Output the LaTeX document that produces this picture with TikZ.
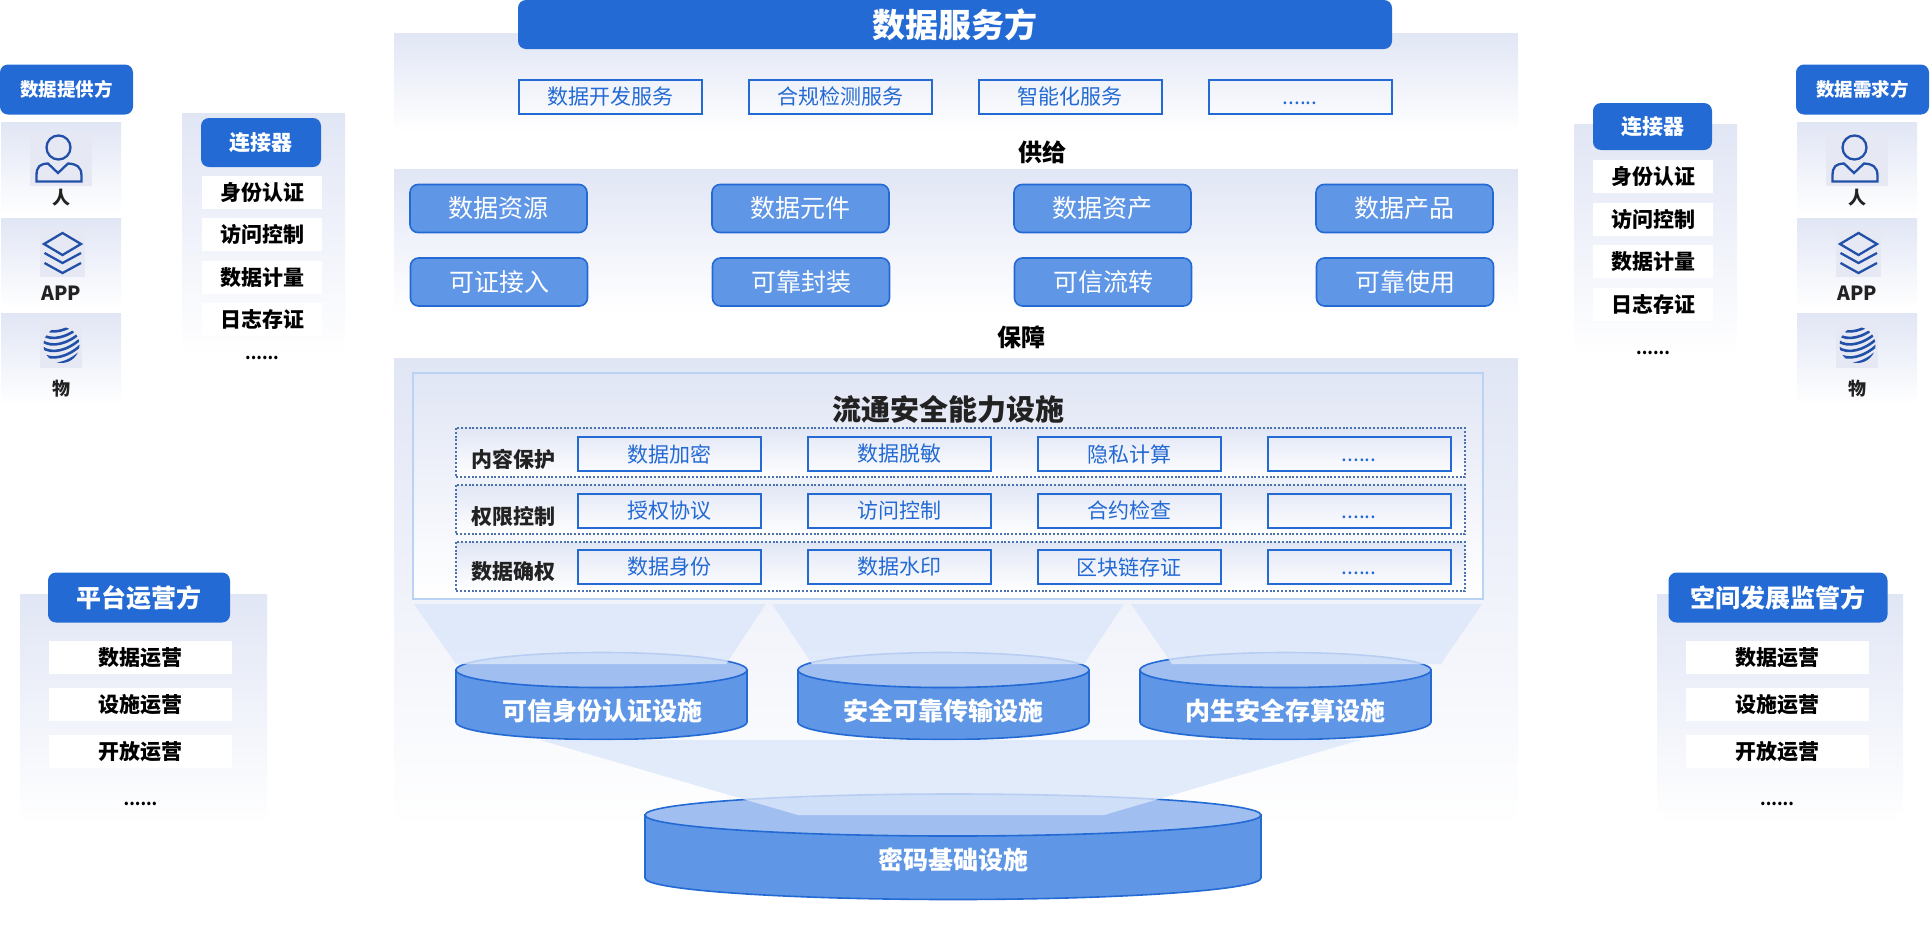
\documentclass[tikz,border=0pt]{standalone}
\usepackage{fontspec}
\usepackage{tikz}
\setmainfont{Noto Sans CJK SC}
\definecolor{barblue}{HTML}{236AD4}
\definecolor{softblue}{HTML}{5F96E6}
\definecolor{capblue}{HTML}{A0BFF0}
\definecolor{frameblue}{HTML}{BAD3F5}
\definecolor{panelgray}{HTML}{E1E6F5}
\definecolor{funnelblue}{HTML}{DCE7FA}
\definecolor{icongray}{HTML}{E6E9F3}
\definecolor{iconblue}{HTML}{2250A8}
\definecolor{dotblue}{HTML}{4A72AE}
\definecolor{inkgray}{HTML}{222222}
\pgfdeclareverticalshading{panelfade}{100bp}{color(0bp)=(white); color(25bp)=(white); color(75bp)=(panelgray); color(100bp)=(panelgray)}
\tikzstyle{panel} = [shading=panelfade]
\tikzstyle{dotrow} = [shading=panelfade, draw=dotblue, line width=2pt, dash pattern=on 2pt off 1.8pt]
\tikzstyle{headbox} = [fill=barblue, rounded corners=8pt, text=white, font=\bfseries, inner sep=0pt]
\tikzstyle{servicebox} = [draw=barblue, line width=2pt, text=barblue, inner sep=0pt, minimum width=183pt, minimum height=34pt, font=\fontsize{21}{24}\selectfont]
\tikzstyle{assetbox} = [draw=barblue, fill=softblue, line width=1.6pt, rounded corners=8pt, text=white, inner sep=0pt, minimum width=177pt, minimum height=48pt, font=\fontsize{25}{28}\selectfont]
\tikzstyle{rowbox} = [fill=white, text=black, inner sep=0pt, font=\fontsize{21}{24}\selectfont\bfseries]
\tikzstyle{dotbox} = [text=black, inner sep=0pt, font=\fontsize{16}{20}\selectfont\bfseries]
\tikzstyle{tag} = [text=inkgray, inner sep=0pt, font=\fontsize{21}{24}\selectfont\bfseries]
\tikzstyle{cyl} = [draw=barblue, fill=softblue, line width=1.6pt]
\tikzstyle{cylcap} = [draw=barblue, fill=capblue, line width=1.6pt]
\tikzstyle{cyltext} = [text=white, inner sep=0pt, font=\fontsize{25}{28}\selectfont\bfseries]
\tikzstyle{funnel} = [fill=funnelblue, opacity=0.8]
\tikzstyle{iconline} = [draw=iconblue, line width=2.3pt]
\newcommand{\lowdots}{\vphantom{数}......}
\begin{document}
\begin{tikzpicture}[x=1pt,y=-1pt]
	\useasboundingbox (0,0) rectangle (1930,930);
	% centre panels
	\shade[panel] (394,33) rectangle (1518,132);
	\shade[panel] (394,169) rectangle (1518,312);
	\shade[panel] (394,358) rectangle (1518,830);
	\node[headbox, minimum width=874pt, minimum height=49pt, font=\fontsize{33}{36}\selectfont\bfseries] (service) at (955,24.5) {数据服务方};
	\node[servicebox] (dev) at (610,96.5) {数据开发服务};
	\node[servicebox] (check) at (840,96.5) {合规检测服务};
	\node[servicebox] (smart) at (1070,96.5) {智能化服务};
	\node[servicebox] (more) at (1300,96.5) {\lowdots};
	\node[tag, text=black, font=\fontsize{24}{27}\selectfont\bfseries] (supply) at (1042,152) {供给};
	\node[assetbox] (res) at (498.5,208.5) {数据资源};
	\node[assetbox] (part) at (800.5,208.5) {数据元件};
	\node[assetbox] (asset) at (1102.5,208.5) {数据资产};
	\node[assetbox] (prod) at (1404.5,208.5) {数据产品};
	\node[assetbox] (access) at (499,282) {可证接入};
	\node[assetbox] (seal) at (801,282) {可靠封装};
	\node[assetbox] (flow) at (1103,282) {可信流转};
	\node[assetbox] (use) at (1405,282) {可靠使用};
	\node[tag, text=black, font=\fontsize{24}{27}\selectfont\bfseries] (guard) at (1021,337) {保障};
	% security frame
	\shade[panel, draw=frameblue, line width=2.4pt] (413,373) rectangle (1483,599);
	\node[tag, font=\fontsize{29}{32}\selectfont\bfseries] (title) at (948,409) {流通安全能力设施};
	\shade[dotrow] (456,428) rectangle (1465,477);
	\shade[dotrow] (456,485) rectangle (1465,534);
	\shade[dotrow] (456,542) rectangle (1465,591);
	\node[tag] (content) at (513,459) {内容保护};
	\node[tag] (right) at (513,516) {权限控制};
	\node[tag] (owner) at (513,572) {数据确权};
	\node[servicebox] (encrypt) at (669.5,454) {数据加密};
	\node[servicebox] (mask) at (899.5,454) {数据脱敏};
	\node[servicebox] (privacy) at (1129,454) {隐私计算};
	\node[servicebox] (moreA) at (1359,454) {\lowdots};
	\node[servicebox] (grant) at (669.5,510.5) {授权协议};
	\node[servicebox] (visit) at (899.5,510.5) {访问控制};
	\node[servicebox] (contract) at (1129,510.5) {合约检查};
	\node[servicebox] (moreB) at (1359,510.5) {\lowdots};
	\node[servicebox] (ident) at (669.5,567) {数据身份};
	\node[servicebox] (mark) at (899.5,567) {数据水印};
	\node[servicebox] (chain) at (1129,567) {区块链存证};
	\node[servicebox] (moreC) at (1359,567) {\lowdots};
	% cylinders
	\draw[cyl] (456,670) -- (456,722) arc[start angle=180,end angle=360,x radius=145.5pt,y radius=17.5pt] -- (747,670) -- cycle;
	\draw[cylcap] (601.5,670) circle[x radius=145.5pt,y radius=17.5pt];
	\draw[cyl] (798,670) -- (798,722) arc[start angle=180,end angle=360,x radius=145.5pt,y radius=17.5pt] -- (1089,670) -- cycle;
	\draw[cylcap] (943.5,670) circle[x radius=145.5pt,y radius=17.5pt];
	\draw[cyl] (1140,670) -- (1140,722) arc[start angle=180,end angle=360,x radius=145.5pt,y radius=17.5pt] -- (1431,670) -- cycle;
	\draw[cylcap] (1285.5,670) circle[x radius=145.5pt,y radius=17.5pt];
	\draw[cyl] (645,815) -- (645,878) arc[start angle=180,end angle=360,x radius=308pt,y radius=21.5pt] -- (1261,815) -- cycle;
	\draw[cylcap] (953,815) circle[x radius=308pt,y radius=21pt];
	\fill[funnel] (414,604) -- (766,604) -- (726,664) -- (456,664) -- cycle;
	\fill[funnel] (772,604) -- (1124,604) -- (1084,664) -- (812,664) -- cycle;
	\fill[funnel] (1131,604) -- (1482,604) -- (1441,664) -- (1172,664) -- cycle;
	\fill[funnel] (540,740) -- (1360,740) -- (1104,815) -- (798,815) -- cycle;
	\node[cyltext] (trust) at (602,711) {可信身份认证设施};
	\node[cyltext] (safe) at (943,711) {安全可靠传输设施};
	\node[cyltext] (inner) at (1285,711) {内生安全存算设施};
	\node[cyltext] (cipher) at (953,860) {密码基础设施};
	% provider and consumer columns
	\foreach \ox/\who in {0/数据提供方,1796/数据需求方} {
		\begin{scope}[shift={(\ox,0)}]
			\shade[panel] (1,122) rectangle (121,215);
			\shade[panel] (1,218) rectangle (121,308);
			\shade[panel] (1,313) rectangle (121,405);
			\node[headbox, minimum width=133pt, minimum height=50pt, font=\fontsize{18.5}{22}\selectfont\bfseries] (party\ox) at (66.5,89.5) {\who};
			\fill[icongray] (30,134) rectangle (92,186);
			\draw[iconline] (58.5,147.5) circle[radius=12pt];
			\draw[iconline] (36.5,181.5) -- (81.5,181.5) -- (81.5,176) .. controls (81.5,166) and (76,164) .. (68,163.5) -- (58,173) -- (48,163.5) .. controls (40,164) and (36.5,166) .. (36.5,176) -- cycle;
			\node[tag, font=\fontsize{18}{21}\selectfont\bfseries] (man\ox) at (61,198) {人};
			\fill[icongray] (40,228) rectangle (85,277);
			\draw[iconline] (62.5,233) -- (81,244) -- (62.5,255) -- (44,244) -- cycle;
			\draw[iconline] (44.5,253) -- (62.5,263) -- (81,253);
			\draw[iconline] (44.5,263) -- (62.5,273) -- (81,263);
			\node[tag, font=\fontsize{19.5}{22}\selectfont\bfseries] (app\ox) at (61,293) {APP};
			\fill[icongray] (40,321) rectangle (82,368);
			\begin{scope}
				\clip (61.5,345) circle[radius=18pt];
				\foreach \dy in {-17,-10.5,-4,2.5,9,15.5} {
					\draw[iconline, line width=2.6pt] (42,345+\dy) .. controls (52,345+\dy+7) and (68,345+\dy+3) .. (81,345+\dy-9);
				}
			\end{scope}
			\node[tag, font=\fontsize{18}{21}\selectfont\bfseries] (thing\ox) at (61,389) {物};
		\end{scope}
	}
	% connectors
	\shade[panel] (182,113) rectangle (345,355);
	\shade[panel] (1574,124) rectangle (1737,355);
	\node[headbox, minimum width=120pt, minimum height=49pt, font=\fontsize{21}{24}\selectfont\bfseries] (linkL) at (261,142.5) {连接器};
	\node[headbox, minimum width=119pt, minimum height=47pt, font=\fontsize{21}{24}\selectfont\bfseries] (linkR) at (1652.5,126.5) {连接器};
	\node[rowbox, minimum width=120pt, minimum height=33pt] (idL) at (262,192.5) {身份认证};
	\node[rowbox, minimum width=120pt, minimum height=33pt] (ctlL) at (262,234.5) {访问控制};
	\node[rowbox, minimum width=120pt, minimum height=33pt] (meterL) at (262,277.5) {数据计量};
	\node[rowbox, minimum width=120pt, minimum height=33pt] (logL) at (262,319.5) {日志存证};
	\node[dotbox] (dotsL) at (262,358) {......};
	\node[rowbox, minimum width=120pt, minimum height=33pt] (idR) at (1653,176.5) {身份认证};
	\node[rowbox, minimum width=120pt, minimum height=33pt] (ctlR) at (1653,219) {访问控制};
	\node[rowbox, minimum width=120pt, minimum height=33pt] (meterR) at (1653,261.5) {数据计量};
	\node[rowbox, minimum width=120pt, minimum height=33pt] (logR) at (1653,304.5) {日志存证};
	\node[dotbox] (dotsR) at (1653,352.5) {......};
	% operators
	\shade[panel] (20,594) rectangle (267,825);
	\shade[panel] (1657,594) rectangle (1903,825);
	\node[headbox, minimum width=182pt, minimum height=50pt, font=\fontsize{25}{28}\selectfont\bfseries] (ops) at (139,597.5) {平台运营方};
	\node[headbox, minimum width=219pt, minimum height=50pt, font=\fontsize{25}{28}\selectfont\bfseries] (gov) at (1778,597.5) {空间发展监管方};
	\node[rowbox, minimum width=183pt, minimum height=33pt] (dataL) at (140.5,657.5) {数据运营};
	\node[rowbox, minimum width=183pt, minimum height=33pt] (siteL) at (140.5,704.5) {设施运营};
	\node[rowbox, minimum width=183pt, minimum height=33pt] (openL) at (140.5,751.5) {开放运营};
	\node[dotbox] (restL) at (140.5,803.5) {......};
	\node[rowbox, minimum width=183pt, minimum height=33pt] (dataR) at (1777,657.5) {数据运营};
	\node[rowbox, minimum width=183pt, minimum height=33pt] (siteR) at (1777,704.5) {设施运营};
	\node[rowbox, minimum width=183pt, minimum height=33pt] (openR) at (1777,751.5) {开放运营};
	\node[dotbox] (restR) at (1777,803.5) {......};
\end{tikzpicture}
\end{document}
